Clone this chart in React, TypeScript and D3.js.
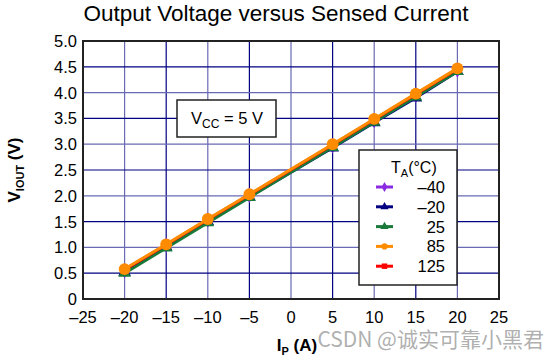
import { useEffect, useRef } from 'react';
import * as d3 from 'd3';

const currents = [-20, -15, -10, -5, 5, 10, 15, 20];
const xTicks = [-25, -20, -15, -10, -5, 0, 5, 10, 15, 20, 25];
const yTicks = [0, 0.5, 1, 1.5, 2, 2.5, 3, 3.5, 4, 4.5, 5];
const tempLabels = ['–40', '–20', '25', '85', '125'];
const vM40 = [0.55, 1.04, 1.53, 2.01, 2.97, 3.46, 3.95, 4.44];
const vM20 = [0.52, 1.01, 1.5, 1.98, 2.93, 3.42, 3.9, 4.41];
const v25 = [0.5, 0.99, 1.48, 1.97, 2.94, 3.43, 3.92, 4.41];
const v85 = [0.58, 1.06, 1.55, 2.03, 3.0, 3.49, 3.98, 4.47];
const v125 = [0.57, 1.05, 1.54, 2.02, 2.99, 3.48, 3.97, 4.46];
const seriesValues = [vM40, vM20, v25, v125, v85];
const seriesTemp = ['–40', '–20', '25', '125', '85'];

const colors: Record<string, string> = {
  '–40': '#8a2be2',
  '–20': '#000080',
  '25': '#1a7a3a',
  '85': '#ff8c00',
  '125': '#ff0000',
};
const symbols: Record<string, d3.SymbolType> = {
  '–40': d3.symbolDiamond,
  '–20': d3.symbolTriangle,
  '25': d3.symbolTriangle,
  '85': d3.symbolCircle,
  '125': d3.symbolSquare,
};

export default function App() {
  const ref = useRef<SVGSVGElement | null>(null);

  useEffect(() => {
    if (!ref.current) return;
    const width = 560;
    const height = 360;
    const margin = { top: 41, right: 61, bottom: 61, left: 83 };
    const font = 'Liberation Sans, Arial, sans-serif';

    const svg = d3.select(ref.current);
    svg.selectAll('*').remove();

    const x = d3.scaleLinear().domain([-25, 25]).range([margin.left, width - margin.right]);
    const y = d3.scaleLinear().domain([0, 5]).range([height - margin.bottom, margin.top]);

    svg.append('rect').attr('width', width).attr('height', height).attr('fill', '#fff');

    // grid
    const grid = svg.append('g');
    grid
      .selectAll('line.v')
      .data(xTicks.slice(1, -1))
      .join('line')
      .attr('x1', (d) => x(d))
      .attr('x2', (d) => x(d))
      .attr('y1', y(0))
      .attr('y2', y(5))
      .attr('stroke', (d, i) => (i % 2 ? '#000080' : '#6a6ab4'))
      .attr('stroke-width', 1.2);
    grid
      .selectAll('line.h')
      .data(yTicks.slice(1, -1))
      .join('line')
      .attr('x1', x(-25))
      .attr('x2', x(25))
      .attr('y1', (d) => y(d))
      .attr('y2', (d) => y(d))
      .attr('stroke', (d, i) => (i % 2 ? '#6a6ab4' : '#000080'))
      .attr('stroke-width', 1.2);

    // border
    svg
      .append('rect')
      .attr('x', x(-25))
      .attr('y', y(5))
      .attr('width', x(25) - x(-25))
      .attr('height', y(0) - y(5))
      .attr('fill', 'none')
      .attr('stroke', '#222')
      .attr('stroke-width', 2);

    // axis labels
    svg
      .append('g')
      .selectAll('text')
      .data(yTicks)
      .join('text')
      .attr('x', margin.left - 6)
      .attr('y', (d) => y(d))
      .attr('dy', '0.36em')
      .attr('text-anchor', 'end')
      .attr('font-family', font)
      .attr('font-size', 16.5)
      .text((d) => (d === 0 ? '0' : d3.format('.1f')(d)));
    svg
      .append('g')
      .selectAll('text')
      .data(xTicks)
      .join('text')
      .attr('x', (d) => x(d))
      .attr('y', y(0) + 24)
      .attr('text-anchor', 'middle')
      .attr('font-family', font)
      .attr('font-size', 16.5)
      .text((d) => (d < 0 ? '–' + Math.abs(d) : String(d)));

    // series
    const line = d3
      .line<number>()
      .x((_, i) => x(currents[i]))
      .y((d) => y(d));
    seriesValues.forEach((vals, si) => {
      const t = seriesTemp[si];
      const g = svg.append('g');
      g.append('path')
        .attr('d', line(vals))
        .attr('fill', 'none')
        .attr('stroke', colors[t])
        .attr('stroke-width', 3);
      g.selectAll('path.m')
        .data(vals)
        .join('path')
        .attr('transform', (d, i) => `translate(${x(currents[i])},${y(d)})`)
        .attr('d', d3.symbol(symbols[t], t === '85' ? 110 : 70)())
        .attr('fill', colors[t]);
    });

    // Vcc box
    const vb = svg.append('g').attr('transform', 'translate(177,100)');
    vb.append('rect').attr('width', 99).attr('height', 37).attr('fill', '#fff').attr('stroke', '#222').attr('stroke-width', 1.5);
    const vt = vb
      .append('text')
      .attr('x', 50)
      .attr('y', 24)
      .attr('text-anchor', 'middle')
      .attr('font-family', font)
      .attr('font-size', 16.5);
    vt.append('tspan').text('V');
    vt.append('tspan').attr('font-size', 12).attr('dy', 4).text('CC');
    vt.append('tspan').attr('dy', -4).text(' = 5 V');

    // legend
    const lg = svg.append('g').attr('transform', 'translate(359,150)');
    lg.append('rect').attr('width', 98).attr('height', 135).attr('fill', '#fff').attr('stroke', '#222').attr('stroke-width', 1.5);
    const lt = lg.append('text').attr('x', 32).attr('y', 23).attr('font-family', font).attr('font-size', 16);
    lt.append('tspan').text('T');
    lt.append('tspan').attr('font-size', 11).attr('dy', 4).text('A');
    lt.append('tspan').attr('dy', -4).text('(°C)');
    tempLabels.forEach((t, i) => {
      const cy = 37 + i * 19.8;
      lg.append('line')
        .attr('x1', 17)
        .attr('x2', 34)
        .attr('y1', cy)
        .attr('y2', cy)
        .attr('stroke', colors[t])
        .attr('stroke-width', 3);
      lg.append('path')
        .attr('transform', `translate(25.5,${cy})`)
        .attr('d', d3.symbol(symbols[t], 30)())
        .attr('fill', colors[t]);
      lg.append('text')
        .attr('x', 86)
        .attr('y', cy)
        .attr('dy', '0.36em')
        .attr('text-anchor', 'end')
        .attr('font-family', font)
        .attr('font-size', 16.5)
        .text(t);
    });

    // title
    svg
      .append('text')
      .attr('x', 276)
      .attr('y', 21)
      .attr('text-anchor', 'middle')
      .attr('font-family', font)
      .attr('font-size', 22.5)
      .text('Output Voltage versus Sensed Current');

    // y label
    const yl = svg
      .append('text')
      .attr('transform', 'translate(20,170) rotate(-90)')
      .attr('text-anchor', 'middle')
      .attr('font-family', font)
      .attr('font-weight', 'bold')
      .attr('font-size', 17);
    yl.append('tspan').text('V');
    yl.append('tspan').attr('font-size', 11).attr('dy', 4).text('IOUT');
    yl.append('tspan').attr('dy', -4).text(' (V)');

    // x label
    const xl = svg
      .append('text')
      .attr('x', 297)
      .attr('y', 351)
      .attr('text-anchor', 'middle')
      .attr('font-family', font)
      .attr('font-weight', 'bold')
      .attr('font-size', 17);
    xl.append('tspan').text('I');
    xl.append('tspan').attr('font-size', 11).attr('dy', 4).text('P');
    xl.append('tspan').attr('dy', -4).text(' (A)');

    // watermark
    svg
      .append('text')
      .attr('x', 544)
      .attr('y', 347)
      .attr('text-anchor', 'end')
      .attr('font-family', 'Noto Sans CJK SC, sans-serif')
      .attr('font-size', 21)
      .attr('fill', '#9a9a9a')
      .attr('fill-opacity', 0.8)
      .text('CSDN @诚实可靠小黑君');
  }, []);

  return <svg ref={ref} width={560} height={360} style={{ position: 'absolute', left: 0, top: 0 }} />;
}
